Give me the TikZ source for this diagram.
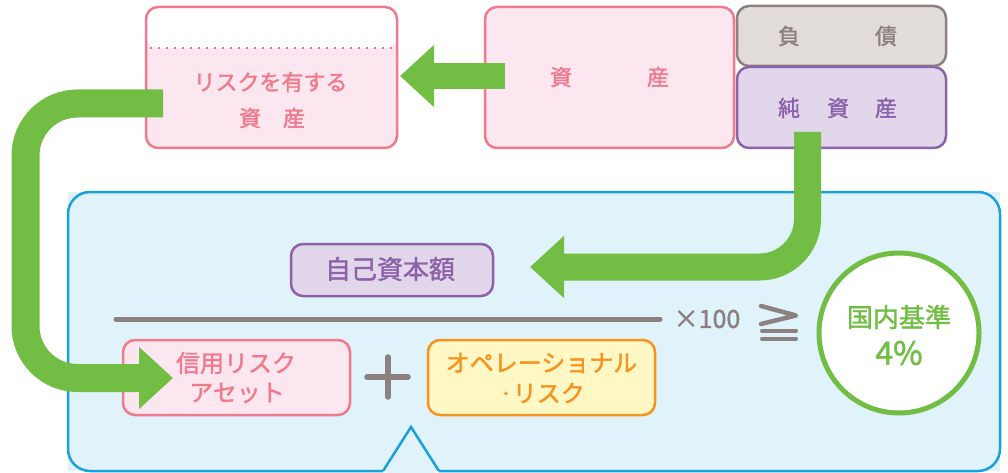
\documentclass[tikz,border=0pt]{standalone}
\usepackage{fontspec}
\newfontfamily\jp[FakeBold=1.6]{Noto Sans CJK JP}
\usetikzlibrary{arrows.meta}
\definecolor{gr}{HTML}{72BE44}
\definecolor{pk}{HTML}{F07A8C}
\definecolor{pkfill}{HTML}{FCE7F1}
\definecolor{pu}{HTML}{8C62AA}
\definecolor{pufill}{HTML}{E2D6EA}
\definecolor{gy}{HTML}{8C8180}
\definecolor{gyfill}{HTML}{E2DCD9}
\definecolor{bl}{HTML}{1AA0DA}
\definecolor{blfill}{HTML}{E0F2FA}
\definecolor{orn}{HTML}{F7931E}
\definecolor{ornfill}{HTML}{FFF8C5}
\tikzset{
  box/.style={draw, line width=2.5pt, rounded corners=12pt, inner sep=0pt},
  pinkbox/.style={box, draw=pk, fill=pkfill},
  purplebox/.style={box, draw=pu, fill=pufill},
  graybox/.style={box, draw=gy, fill=gyfill},
  orangebox/.style={box, draw=orn, fill=ornfill},
  txt/.style={font=\jp\fontsize{22pt}{26pt}\selectfont, inner sep=0pt},
  bigarrow/.style={draw=gr, line width=27pt, rounded corners=50pt,
    -{Triangle[length=34pt,width=60pt]}},
}
\begin{document}
\begin{tikzpicture}[x=1pt,y=-1pt]
\useasboundingbox (0,0) rectangle (1008,473);
% big blue panel with notch
\path[fill=blfill] (68,192) rectangle (1000,471);
\draw[bl, line width=2.5pt, rounded corners=22pt]
  (383,471) -- (68,471) -- (68,192) -- (1000,192) -- (1000,471) -- (439,471);
\fill[blfill] (386,473) -- (411,431) -- (436,473) -- cycle;
\draw[bl, line width=2.5pt] (383,471) -- (411,427) -- (439,471);

% top boxes
\node[pinkbox, minimum width=251pt, minimum height=141pt,
  path picture={\fill[white] (path picture bounding box.north west) rectangle ([yshift=-41pt]path picture bounding box.north east);}]
  (risk) at (271.5,77.5) {};
\draw[pk, line width=2.2pt, dash pattern=on 2pt off 6pt] (150,48) -- (394,48);
\node[txt, text=pk] (risk1) at (270.5,82) {リスクを有する};
\node[txt, text=pk] (risk2) at (272,118) {資　産};

\node[pinkbox, minimum width=249pt, minimum height=141pt] (asset) at (609.5,77.5) {};
\node[txt, text=pk] at (561,77) {資};
\node[txt, text=pk] at (658,77) {産};

\node[graybox, minimum width=209pt, minimum height=60pt] (debt) at (841.5,36) {};
\node[txt, text=gy] at (789,36) {負};
\node[txt, text=gy] at (886,36) {債};

\node[purplebox, minimum width=209pt, minimum height=81pt] (net) at (841.5,107.5) {};
\node[txt, text=pu] at (789,108) {純};
\node[txt, text=pu] at (838,108) {資};
\node[txt, text=pu] at (886,108) {産};

% lower boxes
\node[purplebox, minimum width=202pt, minimum height=52pt] (cap) at (392,270) {};
\node[txt, text=pu, font=\jp\fontsize{26pt}{30pt}\selectfont] at (390,269) {自己資本額};

\node[pinkbox, minimum width=227pt, minimum height=75pt] (credit) at (236.5,377.5) {};
\node[txt, text=pk, font=\jp\fontsize{24pt}{28pt}\selectfont] at (236,363) {信用リスク};
\node[txt, text=pk, font=\jp\fontsize{24pt}{28pt}\selectfont] at (237,393) {アセット};

\node[orangebox, minimum width=227pt, minimum height=75pt] (oper) at (541.5,377.5) {};
\node[txt, text=orn, font=\jp\fontsize{24pt}{28pt}\selectfont] at (541.5,363) {オペレーショナル};
\node[txt, text=orn, font=\jp\fontsize{24pt}{28pt}\selectfont] at (542,393) {·リスク};

% plus
\draw[gy, line width=5.5pt, line cap=round] (367,377) -- (408,377) (388,357) -- (388,397);

% fraction line
\draw[gy, line width=5pt, line cap=round] (116,319) -- (660,319);
\node[txt, text=gy, font=\jp\fontsize{25pt}{28pt}\selectfont] (x100) at (707,319) {×100};

% geq sign
\draw[gy, line width=4.5pt, line cap=round, line join=round] (761,306) -- (796,315.5) -- (761,324);
\draw[gy, line width=4pt, line cap=round] (762,330.5) -- (796,330.5) (762,338.5) -- (796,338.5);

% circle
\node[circle, draw=gr, line width=5pt, fill=white, minimum size=160pt] (std) at (899,333) {};
\node[txt, text=gr, font=\jp\fontsize{26pt}{30pt}\selectfont] at (899,317) {国内基準};
\node[txt, text=gr, font=\jp\fontsize{32pt}{34pt}\selectfont] at (899,353) {4\%};

% green arrows
\coordinate (a1s) at (505,76);
\coordinate (a1e) at (400,76);
\draw[bigarrow, line width=26pt] (a1s) -- (a1e);

\coordinate (a2s) at (807.5,132);
\coordinate (a2c) at (807.5,267);
\coordinate (a2e) at (530,267);
\draw[bigarrow, rounded corners=48pt] (a2s) -- (a2c) -- (a2e);

\coordinate (a3s) at (163,103.5);
\coordinate (a3c1) at (25.5,103.5);
\coordinate (a3c2) at (25.5,378);
\coordinate (a3e) at (173,378);
\draw[bigarrow, line width=28pt, rounded corners=52pt] (a3s) -- (a3c1) -- (a3c2) -- (a3e);
\end{tikzpicture}
\end{document}
